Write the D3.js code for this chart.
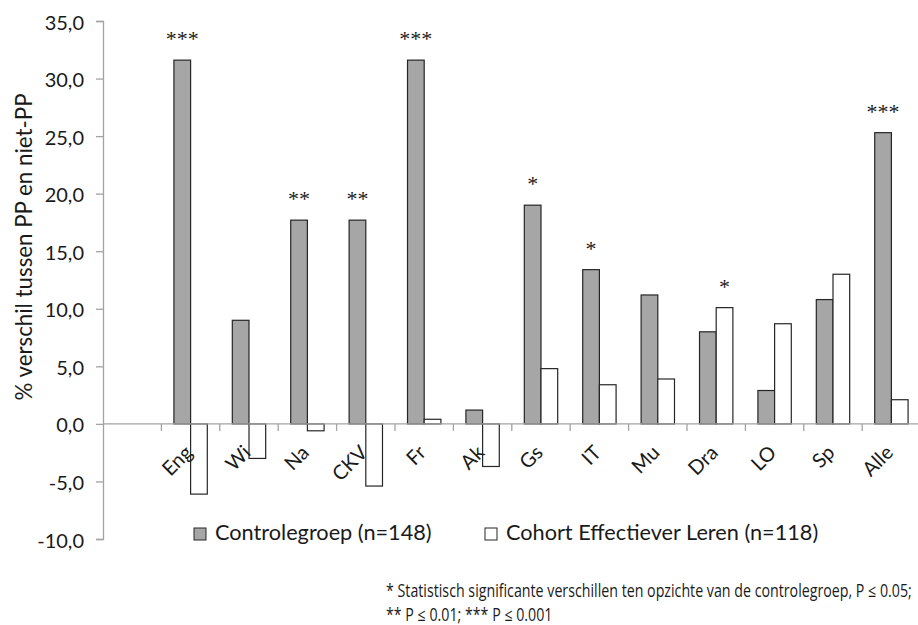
<!DOCTYPE html>
<html>
<head>
<meta charset="utf-8">
<script src="https://cdn.jsdelivr.net/npm/d3@7"></script>
<style>
  body { margin: 0; background: #fff; }
  text { fill: #1a1a1a; }
</style>
</head>
<body>
<div id="chart"></div>
<script>
// categories (first slot is empty in the original chart)
var categories = ["", "Eng", "Wi", "Na", "CKV", "Fr", "Ak", "Gs", "IT", "Mu", "Dra", "LO", "Sp", "Alle"];
var controle = [null, 31.6, 9.0, 17.7, 17.7, 31.6, 1.2, 19.0, 13.4, 11.2, 8.0, 2.9, 10.8, 25.3];
var cohort   = [null, -6.1, -3.0, -0.6, -5.4, 0.4, -3.7, 4.8, 3.4, 3.9, 10.1, 8.7, 13.0, 2.1];
var seriesNames = ["Controlegroep (n=148)", "Cohort Effectiever Leren (n=118)"];
var yTicks = [-10, -5, 0, 5, 10, 15, 20, 25, 30, 35];
// significance markers: category, label, series index it sits above
var markers = [
  ["Eng", "***", 0], ["Na", "**", 0], ["CKV", "**", 0], ["Fr", "***", 0],
  ["Gs", "*", 0], ["IT", "*", 0], ["Dra", "*", 1], ["Alle", "***", 0]
];
var footnote = [
  "* Statistisch significante verschillen ten opzichte van de controlegroep, P \u2264 0.05;",
  "** P \u2264 0.01; *** P \u2264 0.001"
];

var width = 918, height = 625;
var svg = d3.select("#chart").append("svg")
            .attr("width", width)
            .attr("height", height);

var plotLeft = 103, plotTop = 21, plotBottom = 539;
var step = 58.4;

var x = d3.scaleBand()
          .domain(categories)
          .range([plotLeft, plotLeft + step * categories.length])
          .paddingInner(0).paddingOuter(0);

var xs = d3.scaleBand()
           .domain([0, 1])
           .range([0, x.bandwidth()])
           .paddingInner(0).paddingOuter(0.75);

var y = d3.scaleLinear()
          .domain([-10, 35])
          .range([plotBottom, plotTop]);

var axisColor = "#a3a3a3";
var font = "Lato, 'Gill Sans', sans-serif";

// y axis
var yAxis = d3.axisLeft(y).tickValues(yTicks).tickSize(7).tickPadding(12)
              .tickFormat(function(d){ return d3.format(".1f")(d).replace(".", ",").replace("\u2212", "-"); });
var gy = svg.append("g").attr("transform", "translate(" + plotLeft + ",0)").call(yAxis);
gy.select(".domain").attr("stroke", axisColor).attr("stroke-width", 1.3);
gy.selectAll(".tick line").attr("stroke", axisColor).attr("stroke-width", 1.3);
gy.selectAll(".tick text").attr("font-family", font).attr("font-size", 20)
  .attr("fill", "#1a1a1a").attr("dy", "0.4em");

// bars
var data = [];
categories.forEach(function(c, i) {
  if (controle[i] != null) data.push({cat: c, s: 0, v: controle[i]});
  if (cohort[i] != null) data.push({cat: c, s: 1, v: cohort[i]});
});

svg.append("g").selectAll("rect")
   .data(data).enter().append("rect")
   .attr("x", function(d){ return x(d.cat) + xs(d.s); })
   .attr("width", xs.bandwidth())
   .attr("y", function(d){ return y(Math.max(0, d.v)); })
   .attr("height", function(d){ return Math.abs(y(d.v) - y(0)); })
   .attr("fill", function(d){ return d.s === 0 ? "#a6a6a6" : "#ffffff"; })
   .attr("stroke", "#262626")
   .attr("stroke-width", 1.2);

// x axis line and ticks between categories
var zero = y(0);
svg.append("line")
   .attr("x1", plotLeft).attr("x2", x.range()[1])
   .attr("y1", zero).attr("y2", zero)
   .attr("stroke", axisColor).attr("stroke-width", 1.3);

svg.append("g").selectAll("line")
   .data(categories.slice(1)).enter().append("line")
   .attr("x1", function(d){ return x(d); }).attr("x2", function(d){ return x(d); })
   .attr("y1", zero).attr("y2", zero + 7)
   .attr("stroke", axisColor).attr("stroke-width", 1.3);

// category labels, rotated
svg.append("g").selectAll("text")
   .data(categories.slice(1)).enter().append("text")
   .attr("transform", function(d){
     return "translate(" + (x(d) + x.bandwidth() / 2 + 3) + "," + (zero + 30) + ") rotate(-45)";
   })
   .attr("text-anchor", "end")
   .attr("font-family", font).attr("font-size", 20)
   .text(function(d){ return d; });

// significance markers
svg.append("g").selectAll("text")
   .data(markers).enter().append("text")
   .attr("x", function(d){ return x(d[0]) + xs(d[2]) + xs.bandwidth() / 2; })
   .attr("y", function(d){
     var i = categories.indexOf(d[0]);
     var v = d[2] === 0 ? controle[i] : cohort[i];
     return y(v) - 14;
   })
   .attr("text-anchor", "middle")
   .attr("font-family", "'Liberation Serif', 'Times New Roman', serif")
   .attr("font-size", 22)
   .attr("fill", "#222")
   .text(function(d){ return d[1]; });

// y title
svg.append("text")
   .attr("transform", "translate(32,247) rotate(-90)")
   .attr("text-anchor", "middle")
   .attr("font-family", font).attr("font-size", 22.3)
   .text("% verschil tussen PP en niet-PP");

// legend
var legendX = [194, 485];
var lg = svg.append("g").selectAll("g")
   .data(seriesNames).enter().append("g")
   .attr("transform", function(d, i){ return "translate(" + legendX[i] + ",528)"; });
lg.append("rect")
  .attr("width", 12).attr("height", 12)
  .attr("fill", function(d, i){ return i === 0 ? "#a6a6a6" : "#fff"; })
  .attr("stroke", "#262626").attr("stroke-width", 1);
lg.append("text")
  .attr("x", 21).attr("y", 12)
  .attr("font-family", font).attr("font-size", 21.7)
  .text(function(d){ return d; });

// footnote, squeezed horizontally so the first line spans the original width
var fg = svg.append("g");
var fn = fg.selectAll("text")
   .data(footnote).enter().append("text")
   .attr("x", 0)
   .attr("y", function(d, i){ return i * 24; })
   .attr("font-family", "'Open Sans', sans-serif")
   .attr("font-size", 17.5)
   .attr("fill", "#222")
   .text(function(d){ return d; });
var ratio = 526 / fn.node().getComputedTextLength();
fg.attr("transform", "translate(386,597) scale(" + ratio + ",1)");
</script>
</body>
</html>
